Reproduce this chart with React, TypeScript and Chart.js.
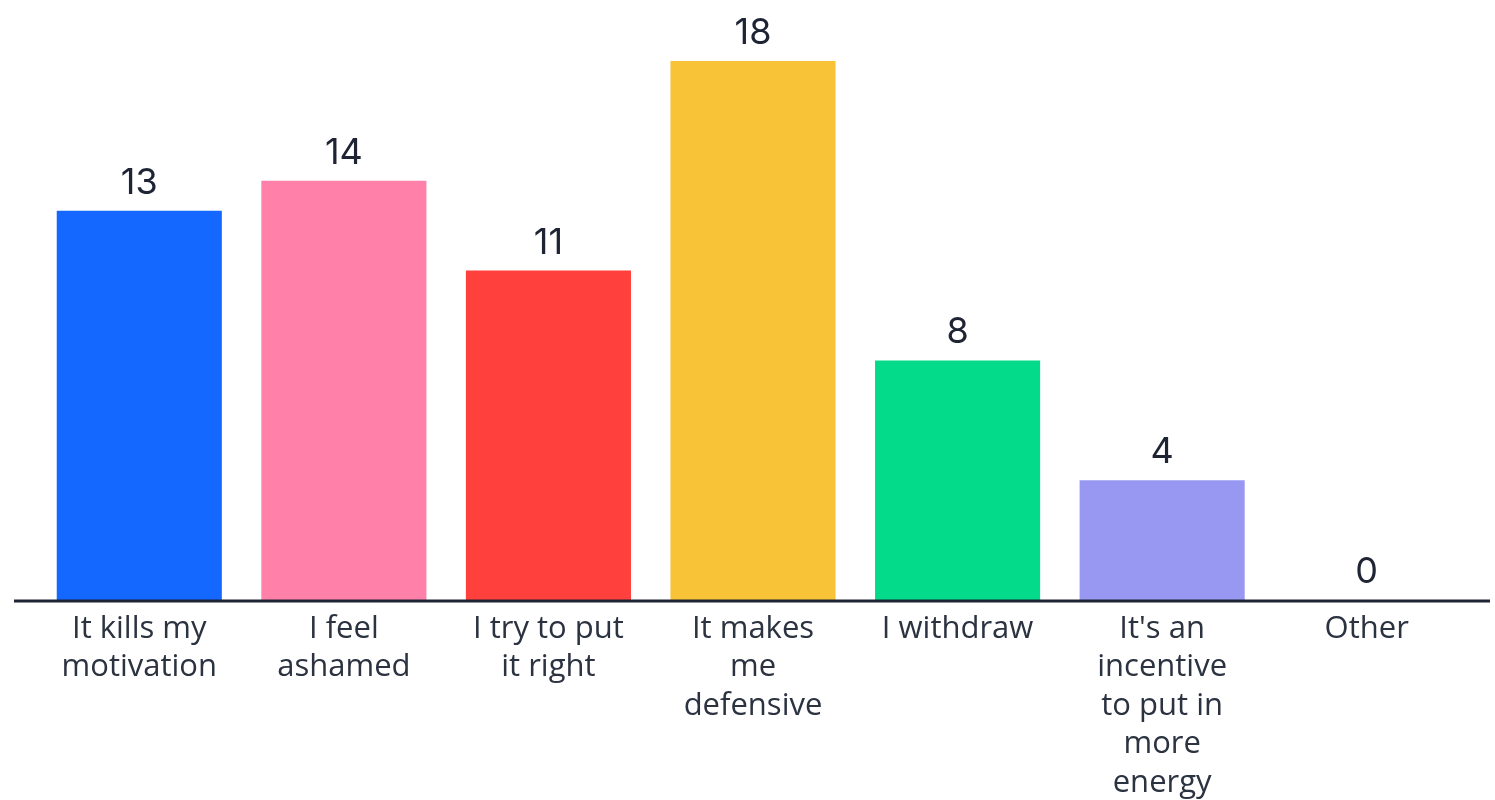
import React, { useEffect, useRef } from "react";
import { Chart, registerables } from "chart.js";

Chart.register(...registerables);

const categories: (string | string[])[] = [
  ["It kills my", "motivation"],
  ["I feel", "ashamed"],
  ["I try to put", "it right"],
  ["It makes", "me", "defensive"],
  "I withdraw",
  ["It's an", "incentive", "to put in", "more", "energy"],
  "Other",
];
const values: number[] = [13, 14, 11, 18, 8, 4, 0];
const barColors: string[] = [
  "#1467FF",
  "#FF80A9",
  "#FF403D",
  "#F9C338",
  "#03DB8A",
  "#9898F3",
  "#9898F3",
];

const TEXT = "#1E2433";

const valueLabels = {
  id: "valueLabels",
  afterDatasetsDraw(chart: any) {
    const ctx = chart.ctx;
    const meta = chart.getDatasetMeta(0);
    ctx.save();
    ctx.fillStyle = TEXT;
    ctx.font = "36px Inter";
    ctx.textAlign = "center";
    ctx.textBaseline = "alphabetic";
    meta.data.forEach((bar: any, i: number) => {
      ctx.fillText(String(values[i]), bar.x, bar.y - 17);
    });
    ctx.restore();
  },
};

const axisLine = {
  id: "axisLine",
  afterDatasetsDraw(chart: any) {
    const ctx = chart.ctx;
    const y = chart.scales.y.getPixelForValue(0);
    ctx.save();
    ctx.strokeStyle = TEXT;
    ctx.lineWidth = 3;
    ctx.beginPath();
    ctx.moveTo(14, y + 1);
    ctx.lineTo(1490, y + 1);
    ctx.stroke();
    ctx.restore();
  },
};

export default function App() {
  const ref = useRef<HTMLCanvasElement>(null);
  useEffect(() => {
    if (!ref.current) return;
    const chart = new Chart(ref.current, {
      type: "bar",
      data: {
        labels: categories,
        datasets: [
          {
            data: values,
            backgroundColor: barColors,
            borderWidth: 0,
            barPercentage: 0.807,
            categoryPercentage: 1,
          },
        ],
      },
      options: {
        responsive: false,
        animation: false,
        layout: { padding: { top: 61, left: 37, right: 26, bottom: 0 } },
        plugins: { legend: { display: false }, tooltip: { enabled: false } },
        scales: {
          x: {
            grid: { display: false, drawTicks: false },
            border: { display: false },
            ticks: {
              color: "#2B3240",
              font: { family: "Open Sans", size: 31, lineHeight: 1.24 },
              padding: 10,
              maxRotation: 0,
              autoSkip: false,
            },
            afterFit: (scale: any) => {
              scale.height = 200;
            },
          },
          y: {
            display: false,
            min: 0,
            max: 18,
          },
        },
      },
      plugins: [valueLabels, axisLine],
    });
    return () => chart.destroy();
  }, []);
  return (
    <div style={{ position: "fixed", left: 0, top: 0, width: 1495, height: 800, background: "#fff" }}>
      <canvas ref={ref} width={1495} height={800} style={{ width: 1495, height: 800 }} />
    </div>
  );
}
